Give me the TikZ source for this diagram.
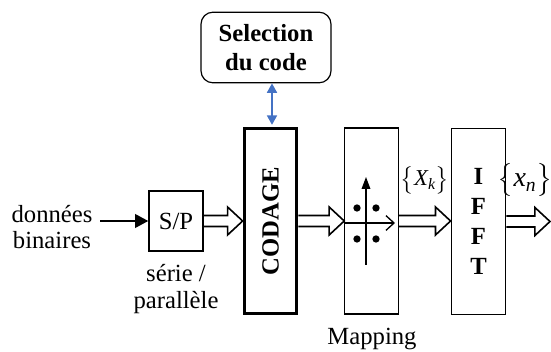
\documentclass[tikz,border=0pt]{standalone}
\usepackage{fontspec}
\usepackage{amsmath}
\setmainfont{Liberation Serif}
\usetikzlibrary{calc,arrows.meta}

\tikzset{
  bloc/.style={draw, line width=0.9pt, inner sep=0pt},
  txt/.style={font=\fontsize{18.5}{20}\selectfont, align=center, inner sep=0pt},
  gras/.style={font=\fontsize{18.5}{22}\selectfont\bfseries, align=center, inner sep=0pt},
  hollow/.style={line width=1.2pt, line join=miter,
    to path={let \p1=(\tikztostart), \p2=(\tikztotarget) in
      (\x1,\y1+4.1pt) -- (\x2-11.3pt,\y1+4.1pt) -- (\x2-11.3pt,\y1+10.5pt) -- (\x2,\y1)
      -- (\x2-11.3pt,\y1-10.5pt) -- (\x2-11.3pt,\y1-4.1pt) -- (\x1,\y1-4.1pt)}},
  point/.style={fill, circle, inner sep=0pt, minimum size=5.5pt}
}

\begin{document}
\begin{tikzpicture}[x=0.75pt,y=0.75pt,yscale=-1,xscale=1]
\useasboundingbox (0,0) rectangle (551,352);

% blocs
\node [bloc, rounded corners=9pt, minimum width=97.5pt, minimum height=53pt, gras] (sel) at (266,47.5) {Selection\\du code};
\node [bloc, line width=2.3pt, minimum width=39.5pt, minimum height=139pt] (cod) at (270.5,221) {};
\node [gras, rotate=90] (codtxt) at (cod.center) {CODAGE};
\node [bloc, minimum width=40.5pt, minimum height=45pt, txt] (sp) at (176,221) {S/P};
\node [bloc, minimum width=40pt, minimum height=139.5pt] (map) at (371.5,221) {};
\node [bloc, minimum width=41pt, minimum height=139pt, gras, font=\fontsize{18.5}{22.5}\selectfont\bfseries] (ifft) at (478.5,221.5) {I\\F\\F\\T};

% textes
\node [txt] (entree) at (52,227) {données\\binaires};
\node [txt] (sptxt) at (176,289) {série /\\parallèle};
\node [txt] (maptxt) at (372,339) {Mapping};
\node [font=\fontsize{17}{20}\selectfont, inner sep=0pt] (Xk) at (425,180) {$\bigl\{\text{\itshape X}_{\text{\itshape k}}\bigr\}$};
\node [font=\fontsize{21}{24}\selectfont, inner sep=0pt] (xn) at (525,180) {$\bigl\{\text{\itshape x}_{\text{\itshape n}}\bigr\}$};

% liaisons
\coordinate (in) at (100,221);
\coordinate (out) at (550,221.5);
\draw [line width=2.2pt, -{Triangle[length=10pt,width=10pt]}] (in) -- (sp.west);
\draw [hollow] (sp.east) to (cod.west);
\draw [hollow] (cod.east) to (map.west);
\draw [hollow] (map.east) to (ifft.west);
\draw [hollow] (ifft.east) to (out);
\draw [color={rgb, 255:red, 68; green, 114; blue, 196}, line width=1.2pt, {Triangle[length=7pt,width=7.5pt]}-{Triangle[length=7pt,width=7.5pt]}] ($(cod.north |- sel.south)+(1.5,0)$) -- ($(cod.north)+(1.5,-2)$);

% constellation
\draw [line width=1pt, -{Triangle[length=9pt,width=6.5pt]}] (366,265) -- (366,177);
\draw [line width=1pt, -{Straight Barb[length=6pt,width=11pt]}] (map.west |- 0,223) -- (395,223);
\node [point] (p1) at (357,208) {};
\node [point] (p2) at (376,208) {};
\node [point] (p3) at (357,239) {};
\node [point] (p4) at (376,239) {};
\end{tikzpicture}
\end{document}
